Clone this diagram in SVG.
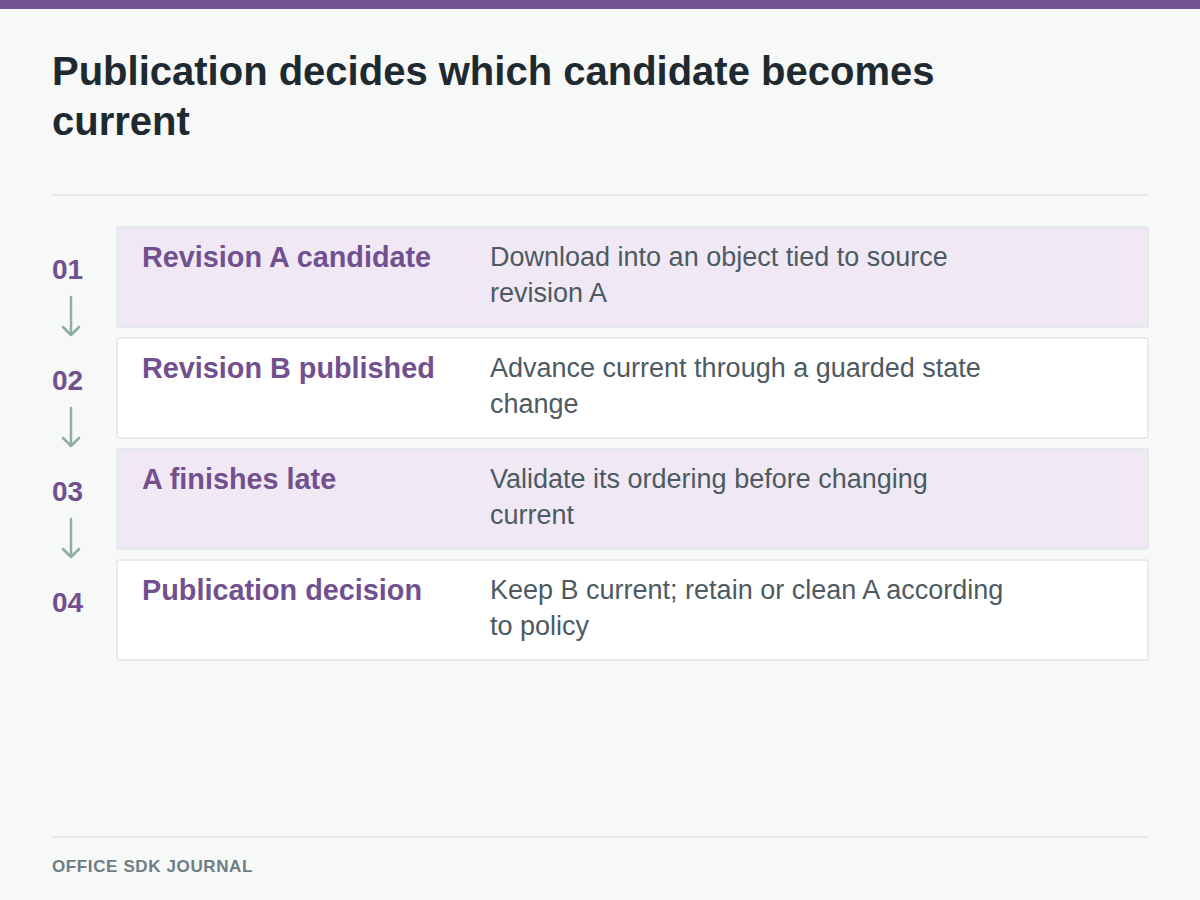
<svg xmlns="http://www.w3.org/2000/svg" width="1200" height="900" viewBox="0 0 1200 900">
<style>
.title{font-family:"Liberation Sans",Arial,sans-serif;font-weight:bold;font-size:40px;fill:#1f2a30}
.num{font-family:"Liberation Sans",Arial,sans-serif;font-weight:bold;font-size:28px;fill:#72508f}
.rt{font-family:"Liberation Sans",Arial,sans-serif;font-weight:bold;font-size:28.8px;fill:#72508f}
.rd{font-family:"Liberation Sans",Arial,sans-serif;font-size:27px;fill:#4d5a61}
.foot{font-family:"Liberation Sans",Arial,sans-serif;font-weight:bold;font-size:17px;fill:#6e7e84;letter-spacing:0.62px}
.odd{fill:#f0e9f5;stroke:#e1e7e6;stroke-width:1.5}
.even{fill:#ffffff;stroke:#e1e7e6;stroke-width:1.5}
.arr{fill:none;stroke:#8fada3;stroke-width:2.5;stroke-linecap:round;stroke-linejoin:round}
</style>
<rect x="0" y="0" width="1200" height="900" fill="#f7f8f8"/>
<rect x="0" y="0" width="1200" height="9" fill="#725393"/>
<text class="title" x="52" y="85">Publication decides which candidate becomes</text>
<text class="title" x="52" y="135">current</text>
<rect x="52" y="194" width="1096" height="2" fill="#e3e8e7"/>
<g id="step1">
<rect class="odd" x="117" y="227" width="1031" height="100" rx="2"/>
<text class="num" x="52" y="279">01</text>
<text class="rt" x="142" y="267">Revision A candidate</text>
<text class="rd" x="490" y="266">Download into an object tied to source</text>
<text class="rd" x="490" y="302">revision A</text>
</g>
<g id="step2">
<rect class="even" x="117" y="338" width="1031" height="100" rx="2"/>
<text class="num" x="52" y="390">02</text>
<text class="rt" x="142" y="378">Revision B published</text>
<text class="rd" x="490" y="377">Advance current through a guarded state</text>
<text class="rd" x="490" y="413">change</text>
</g>
<g id="step3">
<rect class="odd" x="117" y="449" width="1031" height="100" rx="2"/>
<text class="num" x="52" y="501">03</text>
<text class="rt" x="142" y="489">A finishes late</text>
<text class="rd" x="490" y="488">Validate its ordering before changing</text>
<text class="rd" x="490" y="524">current</text>
</g>
<g id="step4">
<rect class="even" x="117" y="560" width="1031" height="100" rx="2"/>
<text class="num" x="52" y="612">04</text>
<text class="rt" x="142" y="600">Publication decision</text>
<text class="rd" x="490" y="599">Keep B current; retain or clean A according</text>
<text class="rd" x="490" y="635">to policy</text>
</g>
<g id="connectors">
<path class="arr" d="M71 297 V335 M63 327 L71 335 L79 327"/>
<path class="arr" d="M71 408 V446 M63 438 L71 446 L79 438"/>
<path class="arr" d="M71 519 V557 M63 549 L71 557 L79 549"/>
</g>
<rect x="52" y="836" width="1096" height="2" fill="#e3e8e7"/>
<text class="foot" x="52" y="872">OFFICE SDK JOURNAL</text>
</svg>
